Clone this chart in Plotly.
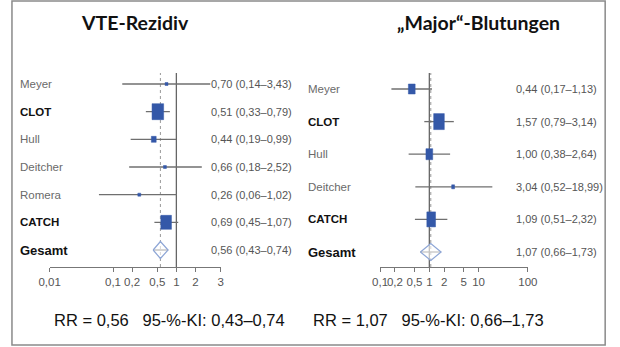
import plotly.graph_objects as go
import math

W, H = 620, 347

# ---------------- data ----------------
left_title = "VTE-Rezidiv"
left_studies = ["Meyer", "CLOT", "Hull", "Deitcher", "Romera", "CATCH", "Gesamt"]
left_rr = [0.70, 0.51, 0.44, 0.66, 0.26, 0.69, 0.56]
left_lo = [0.14, 0.33, 0.19, 0.18, 0.06, 0.45, 0.43]
left_hi = [3.43, 0.79, 0.99, 2.52, 1.02, 1.07, 0.74]
left_ticks = [0.01, 0.1, 0.2, 0.5, 1, 2, 5]
left_ticktext = ["0,01", "0,1", "0,2", "0,5", "1", "2", "3"]
left_summary = "RR = 0,56   95-%-KI: 0,43–0,74"

right_title = "„Major“-Blutungen"
right_studies = ["Meyer", "CLOT", "Hull", "Deitcher", "CATCH", "Gesamt"]
right_rr = [0.44, 1.57, 1.00, 3.04, 1.09, 1.07]
right_lo = [0.17, 0.79, 0.38, 0.52, 0.51, 0.66]
right_hi = [1.13, 3.14, 2.64, 18.99, 2.32, 1.73]
right_ticks = [0.1, 0.2, 0.5, 1, 2, 5, 10, 100]
right_ticktext = ["0,1", "0,2", "0,5", "1", "2", "5", "10", "100"]
right_summary = "RR = 1,07   95-%-KI: 0,66–1,73"

bold_rows = {"CLOT", "CATCH", "Gesamt"}

# ---------------- style ----------------
# box sizes in px (w, h) per study (excluding the pooled row)
left_box = [(3, 3), (12, 16), (5, 6), (3, 3), (3, 3), (11, 14)]
right_box = [(7, 10), (11, 16), (7, 11), (3, 4), (9, 15)]

BLUE = "#3458a8"
CI_COL = "#6f6f6f"
DIAMOND = "#8ea6d6"
LBL_GRAY = "#6a6a6a"
SANS = "Liberation Sans, Arial, sans-serif"
TITLE_FONT = "Lato, Carlito, Calibri, sans-serif"

PLOT_TOP, PLOT_BOT = 73, 267
panels = [
    dict(xa="x", ya="y", studies=left_studies, rr=left_rr, lo=left_lo, hi=left_hi,
         ticks=left_ticks, ticktext=left_ticktext, px0=40, px1=217,
         xrange=[-2, math.log10(5)], row0=84, rowstep=(250 - 84) / 6,
         label_x=7, value_x=205, box=left_box),
    dict(xa="x2", ya="y2", studies=right_studies, rr=right_rr, lo=right_lo, hi=right_hi,
         ticks=right_ticks, ticktext=right_ticktext, px0=382, px1=535,
         xrange=[-1, 2], row0=89, rowstep=(252 - 89) / 5,
         label_x=305, value_x=521, box=right_box),
]

fig = go.Figure()
shapes = []
annotations = []
layout_axes = {}

for k, p in enumerate(panels):
    n = len(p["studies"])
    rows = list(range(n))
    ytop = (PLOT_TOP - p["row0"]) / p["rowstep"]
    ybot = (PLOT_BOT - p["row0"]) / p["rowstep"]
    ppd = (p["px1"] - p["px0"]) / (p["xrange"][1] - p["xrange"][0])  # px per decade
    ppr = p["rowstep"]  # px per row

    xname = "xaxis" if k == 0 else "xaxis2"
    yname = "yaxis" if k == 0 else "yaxis2"
    layout_axes[xname] = dict(
        type="log", range=p["xrange"], domain=[p["px0"] / W, p["px1"] / W],
        anchor=p["ya"], tickmode="array", tickvals=p["ticks"], ticktext=p["ticktext"],
        tickangle=0, ticks="outside", ticklen=4, tickcolor="#777", showline=True,
        linecolor="#777", linewidth=1, showgrid=False, zeroline=False,
        tickfont=dict(family=SANS, size=11.5, color="#555"), fixedrange=True,
    )
    layout_axes[yname] = dict(
        range=[ybot, ytop], domain=[1 - PLOT_BOT / H, 1 - PLOT_TOP / H],
        anchor=p["xa"], visible=False, fixedrange=True,
    )

    pooled = n - 1
    # reference line at 1 and dashed pooled line
    shapes.append(dict(type="line", xref=p["xa"], yref=f"{p['ya']} domain",
                       x0=1, x1=1, y0=0, y1=1, line=dict(color="#666", width=1.3), layer="below"))
    shapes.append(dict(type="line", xref=p["xa"], yref=f"{p['ya']} domain",
                       x0=p["rr"][pooled], x1=p["rr"][pooled], y0=0, y1=1,
                       line=dict(color="#999", width=1, dash="3px,3px"), layer="below"))

    # CI lines
    for i in rows:
        fig.add_trace(go.Scatter(
            x=[p["lo"][i], p["hi"][i]], y=[i, i], mode="lines",
            line=dict(color=CI_COL, width=1.3), xaxis=p["xa"], yaxis=p["ya"],
            hoverinfo="skip", showlegend=False))

    # boxes for individual studies
    for i in rows[:-1]:
        w, h = p["box"][i]
        fx = 10 ** (w / 2 / ppd)
        dy = h / 2 / ppr
        shapes.append(dict(type="rect", xref=p["xa"], yref=p["ya"],
                           x0=p["rr"][i] / fx, x1=p["rr"][i] * fx,
                           y0=i - dy, y1=i + dy,
                           fillcolor=BLUE, line=dict(color=BLUE, width=0.5)))
    # invisible hover markers
    fig.add_trace(go.Scatter(
        x=p["rr"][:-1], y=rows[:-1], mode="markers",
        marker=dict(size=1, color=BLUE, opacity=0), xaxis=p["xa"], yaxis=p["ya"],
        showlegend=False))

    # pooled diamond
    dh = 8.5 / ppr
    fig.add_trace(go.Scatter(
        x=[p["lo"][pooled], p["rr"][pooled], p["hi"][pooled], p["rr"][pooled], p["lo"][pooled]],
        y=[pooled, pooled - dh, pooled, pooled + dh, pooled],
        mode="lines", fill="toself", fillcolor="rgba(255,255,255,0.6)",
        line=dict(color=DIAMOND, width=1.2), xaxis=p["xa"], yaxis=p["ya"],
        hoverinfo="skip", showlegend=False))

    # labels and value text
    for i, name in enumerate(p["studies"]):
        bold = name in bold_rows
        size = 13 if name == "Gesamt" else 11.5
        annotations.append(dict(
            text=f"<b>{name}</b>" if bold else name,
            xref="paper", x=p["label_x"] / W, xanchor="left",
            yref=p["ya"], y=i, yanchor="middle", showarrow=False,
            font=dict(family=SANS, size=size, color="#111" if bold else LBL_GRAY)))
        val = (f"{p['rr'][i]:.2f} ({p['lo'][i]:.2f}–{p['hi'][i]:.2f})").replace(".", ",")
        annotations.append(dict(
            text=val, xref="paper", x=p["value_x"] / W, xanchor="left",
            yref=p["ya"], y=i, yanchor="middle", showarrow=False,
            font=dict(family=SANS, size=11, color="#555")))

# titles
annotations.append(dict(text=f"<b>{left_title}</b>", xref="paper", yref="paper",
                        x=128 / W, y=1 - 22 / H, xanchor="center", yanchor="middle",
                        showarrow=False, font=dict(family=TITLE_FONT, size=19.5, color="#111")))
annotations.append(dict(text=f"<b>{right_title}</b>", xref="paper", yref="paper",
                        x=484 / W, y=1 - 22 / H, xanchor="center", yanchor="middle",
                        showarrow=False, font=dict(family=TITLE_FONT, size=19.5, color="#111")))
# summaries
annotations.append(dict(text=left_summary.replace("   ", "&nbsp;&nbsp;&nbsp;"), xref="paper", yref="paper",
                        x=164 / W, y=1 - 320 / H, xanchor="center", yanchor="middle",
                        showarrow=False, font=dict(family=SANS, size=16.5, color="#111")))
annotations.append(dict(text=right_summary.replace("   ", "&nbsp;&nbsp;&nbsp;"), xref="paper", yref="paper",
                        x=432 / W, y=1 - 320 / H, xanchor="center", yanchor="middle",
                        showarrow=False, font=dict(family=SANS, size=16.5, color="#111")))

# outer frame
shapes.append(dict(type="rect", xref="paper", yref="paper",
                   x0=1 / W, x1=615 / W, y0=1 - 345 / H, y1=1 - 1 / H,
                   line=dict(color="#8a8a8a", width=1.5), fillcolor="rgba(0,0,0,0)"))

fig.update_layout(
    width=W, height=H, margin=dict(l=0, r=0, t=0, b=0),
    paper_bgcolor="white", plot_bgcolor="rgba(0,0,0,0)",
    shapes=shapes, annotations=annotations, showlegend=False,
    **layout_axes,
)

fig.write_html("out.html", config={"displayModeBar": False})
